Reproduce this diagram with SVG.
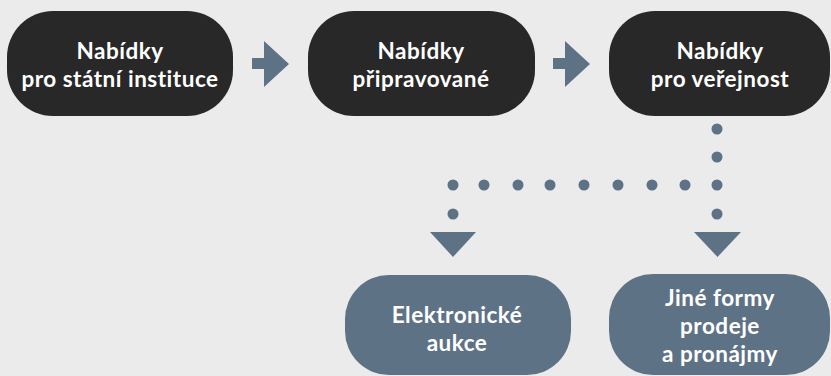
<svg xmlns="http://www.w3.org/2000/svg" width="831" height="376" viewBox="0 0 831 376">
<defs>
<style>
.bg{fill:#ebebeb}
.dark{fill:#282828}
.slate{fill:#5e7286}
.t{font-family:Lato,"Open Sans","Liberation Sans",sans-serif;font-weight:700;font-size:22.5px;letter-spacing:0.5px;fill:#ffffff;text-anchor:middle}
.conn{fill:#5e7286}
</style>
</defs>
<rect class="bg" x="0" y="0" width="831" height="376"/>
<g id="connectors">
<polygon class="conn" points="252,58 264,58 264,41 289,64 264,87 264,69 252,69"/>
<polygon class="conn" points="553,58 565,58 565,41 590,64 565,87 565,69 553,69"/>
<g>
<circle class="conn" cx="717" cy="129" r="5.5"/>
<circle class="conn" cx="717" cy="157" r="5.5"/>
<circle class="conn" cx="717" cy="185" r="5.5"/>
<circle class="conn" cx="717" cy="214" r="5.5"/>
<circle class="conn" cx="685" cy="185" r="5.5"/>
<circle class="conn" cx="652" cy="185" r="5.5"/>
<circle class="conn" cx="618" cy="185" r="5.5"/>
<circle class="conn" cx="584" cy="185" r="5.5"/>
<circle class="conn" cx="550" cy="185" r="5.5"/>
<circle class="conn" cx="518" cy="185" r="5.5"/>
<circle class="conn" cx="484" cy="185" r="5.5"/>
<circle class="conn" cx="453" cy="185" r="5.5"/>
<circle class="conn" cx="453" cy="214" r="5.5"/>
</g>
<polygon class="conn" points="430,232 476,232 453,257"/>
<polygon class="conn" points="694,232 741,232 717.5,257"/>
</g>
<g id="node1">
<rect class="dark" x="7" y="11" width="226" height="105" rx="46" ry="46"/>
<text class="t" x="120" y="59">Nabídky</text>
<text class="t" x="120" y="87">pro státní instituce</text>
</g>
<g id="node2">
<rect class="dark" x="308" y="11" width="227" height="105" rx="46" ry="46"/>
<text class="t" x="421" y="59">Nabídky</text>
<text class="t" x="421" y="87">připravované</text>
</g>
<g id="node3">
<rect class="dark" x="609" y="11" width="221" height="105" rx="46" ry="46"/>
<text class="t" x="720" y="59">Nabídky</text>
<text class="t" x="720" y="87">pro veřejnost</text>
</g>
<g id="node4">
<rect class="slate" x="345" y="275" width="226" height="100" rx="44" ry="44"/>
<text class="t" x="457" y="323">Elektronické</text>
<text class="t" x="457" y="351">aukce</text>
</g>
<g id="node5">
<rect class="slate" x="609" y="274" width="221" height="101" rx="44" ry="44"/>
<text class="t" x="720" y="306">Jiné formy</text>
<text class="t" x="720" y="334">prodeje</text>
<text class="t" x="720" y="362">a pronájmy</text>
</g>
</svg>
